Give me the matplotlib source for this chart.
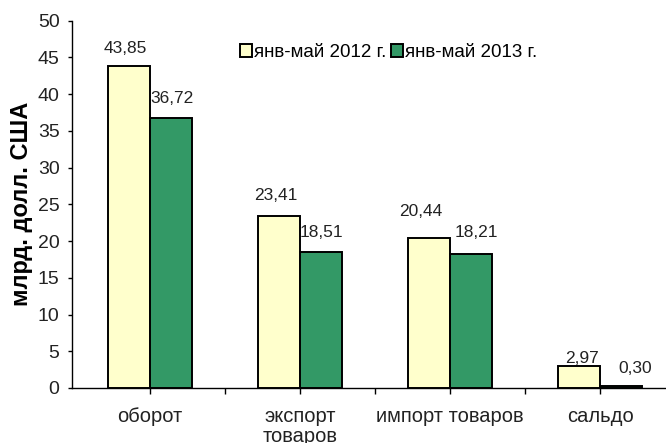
import matplotlib
matplotlib.use("Agg")
import matplotlib.pyplot as plt
import numpy as np

categories = ["оборот", "экспорт\nтоваров", "импорт товаров", "сальдо"]
series_names = ["янв-май 2012 г.", "янв-май 2013 г."]
values_2012 = [43.85, 23.41, 20.44, 2.97]
values_2013 = [36.72, 18.51, 18.21, 0.30]
y_ticks = [0, 5, 10, 15, 20, 25, 30, 35, 40, 45, 50]

plt.rcParams['font.family'] = ['Liberation Sans', 'DejaVu Sans']

fig = plt.figure(figsize=(6.66, 4.43), dpi=100)
ax = fig.add_axes([72 / 666, 55 / 443, 594 / 666, (388 - 20.7) / 443])

x = np.arange(len(categories))
w = 0.282
colors = ["#FFFFCC", "#339966"]
b1 = ax.bar(x - w / 2, values_2012, w, color=colors[0], edgecolor="black", linewidth=1.4, label=series_names[0], zorder=3)
b2 = ax.bar(x + w / 2, values_2013, w, color=colors[1], edgecolor="black", linewidth=1.4, label=series_names[1], zorder=3)

def fmt(v):
    return f"{v:.2f}".replace(".", ",")

# label offsets in pixels (dx from bar centre, dy above bar top)
dx1 = [-4, -3, -8.5, 3.5]
dy1 = [17.7, 21, 26, 7.7]
dx2 = [0.5, 0.5, 5, 14]
dy2 = [19.5, 20, 22, 17.5]
for bars, vals, dxs, dys in [(b1, values_2012, dx1, dy1), (b2, values_2013, dx2, dy2)]:
    for rect, v, dx, dy in zip(bars, vals, dxs, dys):
        ax.annotate(fmt(v), (rect.get_x() + rect.get_width() / 2, v),
                    xytext=(dx * 0.72, dy * 0.72), textcoords="offset points",
                    ha="center", va="center", fontsize=12.5, color="#222222", zorder=4)

ax.set_ylim(0, 50)
ax.set_xlim(-0.52, 3.44)
ax.set_yticks(y_ticks)
ax.set_xticks(x)
ax.set_xticklabels(categories, fontsize=14.5, linespacing=1.05)
ax.set_xticks(np.arange(0.5, len(categories) - 0.5, 1), minor=True)
ax.tick_params(axis="y", labelsize=14, length=3, width=1, pad=6, colors="black")
ax.tick_params(axis="x", which="both", length=4, width=1, pad=10)
for lab in ax.get_yticklabels() + ax.get_xticklabels():
    lab.set_color("#222222")
for s in ["top", "right"]:
    ax.spines[s].set_visible(False)
for s in ["left", "bottom"]:
    ax.spines[s].set_linewidth(1)

ax.set_ylabel("млрд. долл. США", fontsize=17, fontweight="bold", labelpad=3)

ax.legend(loc="upper left", bbox_to_anchor=((240 - 72) / 594, (388 - 44) / (388 - 20.7)), ncol=2, frameon=False,
          fontsize=13.5, handlelength=0.65, handleheight=0.65, handletextpad=0.1,
          columnspacing=0.25, borderaxespad=0, borderpad=0)

fig.savefig("out.png", dpi=100)
